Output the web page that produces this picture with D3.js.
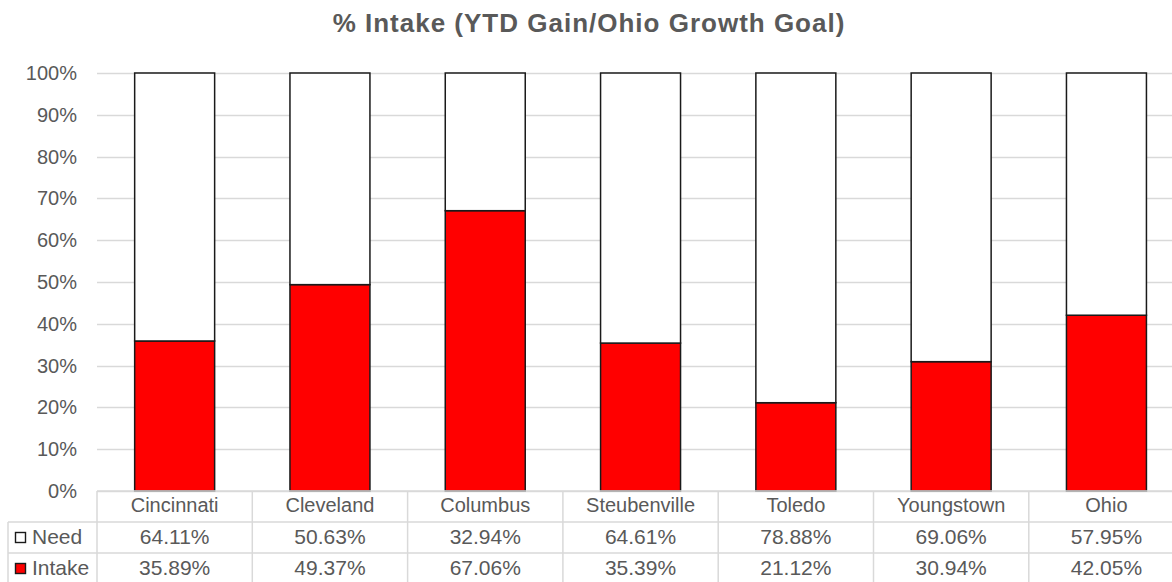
<!DOCTYPE html>
<html>
<head>
<meta charset="utf-8">
<title>% Intake</title>
<script src="https://d3js.org/d3.v7.min.js"></script>
<style>
  html, body { margin: 0; padding: 0; background: #fff; }
  text { font-family: "Liberation Sans", Arial, sans-serif; fill: #595959; }
</style>
</head>
<body>
<script>
// chart data
const cities = ["Cincinnati", "Cleveland", "Columbus", "Steubenville", "Toledo", "Youngstown", "Ohio"];
const need = [64.11, 50.63, 32.94, 64.61, 78.88, 69.06, 57.95];
const intake = [35.89, 49.37, 67.06, 35.39, 21.12, 30.94, 42.05];
const yTicks = [0, 10, 20, 30, 40, 50, 60, 70, 80, 90, 100];

const width = 1172, height = 582;
const plotLeft = 97, plotTop = 73, plotBottom = 491;
const step = 155.3;

const svg = d3.select("body").append("svg")
    .attr("width", width)
    .attr("height", height);

const x = d3.scaleBand()
    .domain(cities)
    .range([plotLeft, plotLeft + step * cities.length])
    .paddingInner(0.485)
    .paddingOuter(0.2425);

const y = d3.scaleLinear()
    .domain([0, 100])
    .range([plotBottom, plotTop]);

// title
svg.append("text")
    .attr("x", 589)
    .attr("y", 32)
    .attr("text-anchor", "middle")
    .style("font-size", "26px")
    .style("font-weight", "bold")
    .style("letter-spacing", "1px")
    .text("% Intake (YTD Gain/Ohio Growth Goal)");

// gridlines
svg.append("g")
    .selectAll("line")
    .data(yTicks)
    .join("line")
    .attr("x1", plotLeft)
    .attr("x2", width)
    .attr("y1", d => Math.round(y(d)) + 0.5)
    .attr("y2", d => Math.round(y(d)) + 0.5)
    .attr("stroke", "#d9d9d9")
    .attr("stroke-width", 1.5);

// y tick labels
svg.append("g")
    .selectAll("text")
    .data(yTicks)
    .join("text")
    .attr("x", 77)
    .attr("y", d => y(d))
    .attr("dy", "0.35em")
    .attr("text-anchor", "end")
    .style("font-size", "20px")
    .text(d => d + "%");

// stacked bars
const stackData = cities.map((c, i) => ({ city: c, Intake: intake[i], Need: need[i] }));
const series = d3.stack().keys(["Intake", "Need"])(stackData);
const fills = { Intake: "#ff0000", Need: "#ffffff" };

svg.append("g")
    .selectAll("g")
    .data(series)
    .join("g")
    .attr("fill", d => fills[d.key])
    .selectAll("rect")
    .data(d => d)
    .join("rect")
    .attr("x", d => x(d.data.city))
    .attr("y", d => y(d[1]))
    .attr("width", x.bandwidth())
    .attr("height", d => y(d[0]) - y(d[1]))
    .attr("stroke", "#1a1a1a")
    .attr("stroke-width", 1.5);

// data table
const table = svg.append("g");
const rowY = [491, 522, 553, 582];
const lineColor = "#d9d9d9";

// horizontal lines
table.append("line")
    .attr("x1", plotLeft).attr("x2", width)
    .attr("y1", rowY[0]).attr("y2", rowY[0])
    .attr("stroke", lineColor).attr("stroke-width", 1.5);
[rowY[1], rowY[2]].forEach(yy => {
    table.append("line")
        .attr("x1", 8).attr("x2", width)
        .attr("y1", yy).attr("y2", yy)
        .attr("stroke", lineColor).attr("stroke-width", 1.5);
});
// vertical lines
const colEdges = d3.range(cities.length).map(i => plotLeft + step * i);
table.selectAll("line.col")
    .data(colEdges)
    .join("line")
    .attr("class", "col")
    .attr("x1", d => d).attr("x2", d => d)
    .attr("y1", rowY[0]).attr("y2", height)
    .attr("stroke", lineColor).attr("stroke-width", 1.5);
table.append("line")
    .attr("x1", 8).attr("x2", 8)
    .attr("y1", rowY[1]).attr("y2", height)
    .attr("stroke", lineColor).attr("stroke-width", 1.5);

// category names
table.selectAll("text.cat")
    .data(cities)
    .join("text")
    .attr("class", "cat")
    .attr("x", d => x(d) + x.bandwidth() / 2)
    .attr("y", 505)
    .attr("dy", "0.35em")
    .attr("text-anchor", "middle")
    .style("font-size", "20px")
    .text(d => d);

// row labels with legend keys
const rows = [
    { name: "Need", vals: need, fill: "#ffffff", y: 537 },
    { name: "Intake", vals: intake, fill: "#ff0000", y: 568 }
];
rows.forEach(r => {
    table.append("rect")
        .attr("x", 15.5).attr("y", r.y - 4.5)
        .attr("width", 10).attr("height", 10)
        .attr("fill", r.fill)
        .attr("stroke", "#1a1a1a").attr("stroke-width", 1.4);
    table.append("text")
        .attr("x", 32)
        .attr("y", r.y)
        .attr("dy", "0.35em")
        .style("font-size", "21px")
        .text(r.name);
    table.selectAll(null)
        .data(r.vals)
        .join("text")
        .attr("x", (d, i) => x(cities[i]) + x.bandwidth() / 2)
        .attr("y", r.y)
        .attr("dy", "0.35em")
        .attr("text-anchor", "middle")
        .style("font-size", "21px")
        .text(d => d.toFixed(2) + "%");
});
</script>
</body>
</html>
